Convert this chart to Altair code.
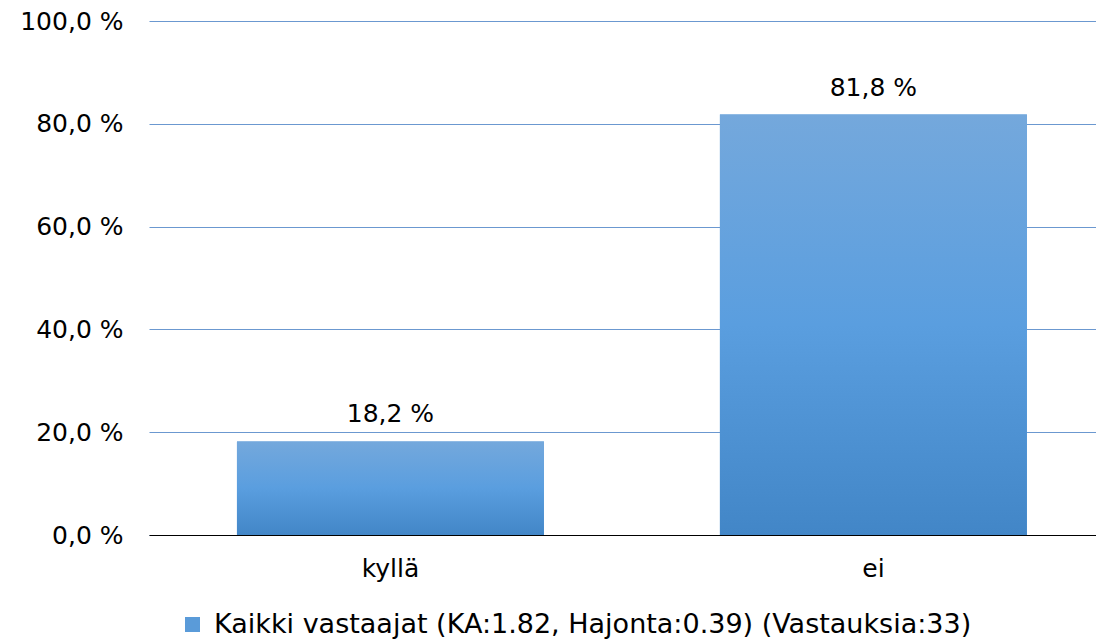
import altair as alt
import pandas as pd

categories = ["kyllä", "ei"]
values = [18.2, 81.8]
series_name = "Kaikki vastaajat (KA:1.82, Hajonta:0.39) (Vastauksia:33)"
y_ticks = [0, 20, 40, 60, 80, 100]

df = pd.DataFrame({"cat": categories, "val": values, "series": [series_name] * len(categories)})

FONT = "DejaVu Sans"

gradient = alt.Gradient(
    gradient="linear",
    x1=0, x2=0, y1=0, y2=1,
    stops=[
        alt.GradientStop(color="#74A8DC", offset=0),
        alt.GradientStop(color="#5A9EDF", offset=0.5),
        alt.GradientStop(color="#4286C7", offset=1),
    ],
)

x_enc = alt.X(
    "cat:N",
    sort=categories,
    scale=alt.Scale(paddingInner=0.3644, paddingOuter=0.1626, align=0.56),
    axis=alt.Axis(
        title=None, labelAngle=0, ticks=False, domain=True, domainColor="#000000",
        domainWidth=1.2, labelFont=FONT, labelFontSize=25, labelColor="#000000",
        labelPadding=21, grid=False,
    ),
)
y_enc = alt.Y(
    "val:Q",
    scale=alt.Scale(domain=[0, 100], nice=False),
    axis=alt.Axis(
        title=None, values=y_ticks, ticks=False, domain=False,
        labelExpr="replace(format(datum.value, '.1f'), '.', ',') + ' %'",
        labelFont=FONT, labelFontSize=25, labelColor="#000000", labelPadding=26,
        grid=True, gridColor="#6B98D0", gridWidth=1.2,
    ),
)

legend_layer = alt.Chart(df).mark_bar(opacity=1).encode(
    x=x_enc,
    y=y_enc,
    color=alt.Color(
        "series:N",
        scale=alt.Scale(range=["#5A9BD9"]),
        legend=alt.Legend(
            title=None, orient="none", legendX=30, legendY=590,
            symbolType="square", symbolSize=225, symbolStrokeWidth=0,
            labelFont=FONT, labelFontSize=27, labelColor="#000000",
            labelLimit=1000, labelOffset=8,
        ),
    ),
)

bars = alt.Chart(df).mark_bar(fill=gradient).encode(x=x_enc, y=y_enc)

labels = alt.Chart(df).transform_calculate(
    lbl="replace(format(datum.val, '.1f'), '.', ',') + ' %'"
).mark_text(
    baseline="bottom", dy=-14, font=FONT, fontSize=25, color="#000000"
).encode(x=x_enc, y=y_enc, text="lbl:N")

chart = alt.layer(legend_layer, bars, labels).properties(
    width=947,
    height=514,
    autosize=alt.AutoSizeParams(type="none"),
    padding={"left": 141, "top": 13, "right": 0, "bottom": 107},
).configure_view(stroke=None).configure_axis(gridOpacity=1)

chart.save("out.html", embed_options={"renderer": "svg", "actions": False})
